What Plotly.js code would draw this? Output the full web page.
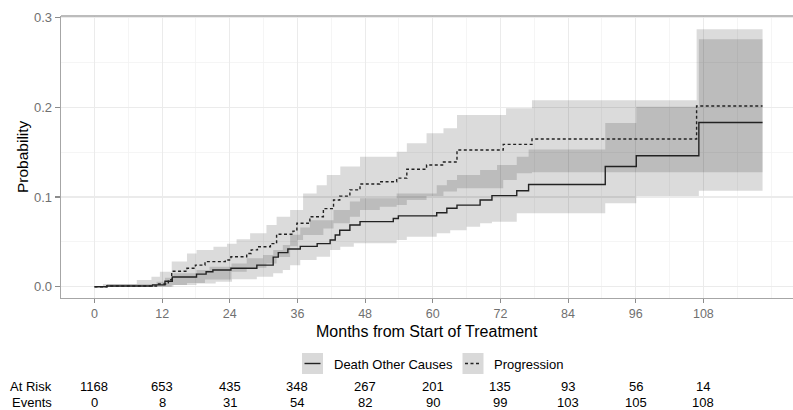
<!DOCTYPE html>
<html>
<head>
<meta charset="utf-8">
<script src="https://cdn.plot.ly/plotly-3.0.1.min.js"></script>
<style>html,body{margin:0;padding:0;background:#fff;}#chart{width:793px;height:410px;}</style>
</head>
<body>
<div id="chart"></div>
<script>
// ---- Data ----
const endTime = 118.5;

// Death Other Causes: cumulative incidence estimate (step changes)
const deathT   = [0, 2.2, 10.3, 12.5, 13.8, 18.1, 19.8, 21, 24.2, 28.8, 31.7, 32.6, 34.3, 36.5, 39.5, 41.8, 42.7, 43.5, 45.3, 47.1, 53, 53.9, 60.7, 62.5, 64.3, 68.4, 70.5, 74.9, 77, 90.6, 96.1, 107.2];
const deathEst = [0, 0.0008, 0.002, 0.006, 0.0108, 0.014, 0.0167, 0.0186, 0.0205, 0.024, 0.033, 0.038, 0.042, 0.045, 0.048, 0.052, 0.0576, 0.063, 0.0688, 0.0725, 0.076, 0.079, 0.0825, 0.0874, 0.091, 0.0967, 0.1015, 0.107, 0.114, 0.134, 0.146, 0.183];
// Death Other Causes: confidence band
const deathLoT = [0, 10.1, 14, 18.1, 21.5, 24.4, 28.8, 31.7, 33.4, 34.7, 36.5, 39.4, 41.8, 43.6, 46, 53.6, 55.4, 60.7, 63.1, 66, 68.4, 70.5, 74.9, 90.6, 96.1, 107.2];
const deathLo  = [0, 0, 0.002, 0.0037, 0.0056, 0.0082, 0.011, 0.015, 0.0186, 0.024, 0.0298, 0.0334, 0.041, 0.0446, 0.0484, 0.052, 0.0557, 0.0595, 0.063, 0.0669, 0.0707, 0.0725, 0.0818, 0.093, 0.101, 0.107];
const deathHiT = [0, 2.2, 11, 12.5, 14, 18.1, 20.4, 24.3, 27, 29.9, 31.7, 33.4, 34.7, 36.5, 38.2, 42.4, 45.3, 47.1, 53.6, 60.7, 62.5, 64.3, 68.4, 71.4, 74.9, 77, 90.6, 96.1, 107.2];
const deathHi  = [0, 0.003, 0.0056, 0.01, 0.015, 0.0186, 0.0223, 0.026, 0.0317, 0.0353, 0.041, 0.0465, 0.058, 0.066, 0.074, 0.0855, 0.095, 0.0985, 0.104, 0.113, 0.119, 0.1245, 0.130, 0.1357, 0.145, 0.153, 0.1825, 0.2007, 0.276];

// Progression: cumulative incidence estimate (step changes)
const progT   = [0, 2.2, 11, 13.1, 13.7, 16.4, 17.9, 19.6, 23.2, 24.2, 27, 27.8, 28.9, 31.2, 32.3, 35.2, 35.9, 38.2, 40.6, 42.4, 43.5, 45.3, 47.1, 50.6, 53.6, 55.4, 58.9, 61.9, 64.3, 72.5, 77.6, 106.8];
const progEst = [0, 0.0008, 0.003, 0.0077, 0.0172, 0.0205, 0.024, 0.028, 0.0298, 0.0334, 0.037, 0.041, 0.0446, 0.048, 0.0585, 0.062, 0.0707, 0.078, 0.087, 0.0967, 0.101, 0.108, 0.1145, 0.117, 0.121, 0.131, 0.1357, 0.139, 0.1524, 0.1587, 0.1647, 0.2015];
// Progression: confidence band
const progLoT = [0, 13.7, 16.4, 19.6, 24.3, 27, 30.5, 32.3, 34.7, 36, 37, 40.6, 42.4, 45.3, 47.1, 50.6, 53.6, 55.4, 58.9, 61.9, 64.3, 72.5, 74.9, 77.6];
const progLo  = [0, 0.002, 0.004, 0.008, 0.0167, 0.021, 0.026, 0.033, 0.045, 0.052, 0.0576, 0.065, 0.0707, 0.078, 0.0855, 0.089, 0.091, 0.0967, 0.101, 0.106, 0.1097, 0.119, 0.1265, 0.1275];
const progHiT = [0, 1.5, 7.5, 10.1, 11.6, 13.7, 16.4, 18.1, 21.1, 23.5, 25.2, 27.6, 30.5, 32.3, 34.7, 37, 39.4, 41.2, 43.6, 47.1, 53.6, 55.4, 58.9, 61.9, 64.3, 73, 77.6, 106.8];
const progHi  = [0, 0.003, 0.0075, 0.011, 0.0167, 0.028, 0.037, 0.041, 0.0446, 0.048, 0.053, 0.0595, 0.0688, 0.078, 0.0855, 0.104, 0.113, 0.1245, 0.134, 0.145, 0.1505, 0.160, 0.171, 0.1766, 0.1914, 0.199, 0.208, 0.287];

// Risk table
const tableTimes = [0, 12, 24, 36, 48, 60, 72, 84, 96, 108];
const atRisk = [1168, 653, 435, 348, 267, 201, 135, 93, 56, 14];
const events = [0, 8, 31, 54, 82, 90, 99, 103, 105, 108];

const xTicks = [0, 12, 24, 36, 48, 60, 72, 84, 96, 108];
const yTicks = [0, 0.1, 0.2, 0.3];
const seriesNames = ['Death Other Causes', 'Progression'];

// ---- Helpers ----
function ext(t, v) { return { x: t.concat([endTime]), y: v.concat([v[v.length - 1]]) }; }

const bandFill = 'rgba(0,0,0,0.14)';
const lineCol = '#222222';
const FONT = 'Liberation Sans, Arial, sans-serif';

const dLo = ext(deathLoT, deathLo), dHi = ext(deathHiT, deathHi), dE = ext(deathT, deathEst);
const pLo = ext(progLoT, progLo), pHi = ext(progHiT, progHi), pE = ext(progT, progEst);

const traces = [
  { x: dLo.x, y: dLo.y, type: 'scatter', mode: 'lines', line: { shape: 'hv', width: 0, color: 'rgba(0,0,0,0)' }, showlegend: false, hoverinfo: 'skip' },
  { x: dHi.x, y: dHi.y, type: 'scatter', mode: 'lines', line: { shape: 'hv', width: 0, color: 'rgba(0,0,0,0)' }, fill: 'tonexty', fillcolor: bandFill, showlegend: false, hoverinfo: 'skip' },
  { x: pLo.x, y: pLo.y, type: 'scatter', mode: 'lines', line: { shape: 'hv', width: 0, color: 'rgba(0,0,0,0)' }, showlegend: false, hoverinfo: 'skip' },
  { x: pHi.x, y: pHi.y, type: 'scatter', mode: 'lines', line: { shape: 'hv', width: 0, color: 'rgba(0,0,0,0)' }, fill: 'tonexty', fillcolor: bandFill, showlegend: false, hoverinfo: 'skip' },
  { x: dE.x, y: dE.y, type: 'scatter', mode: 'lines', name: seriesNames[0], line: { shape: 'hv', width: 1.4, color: lineCol }, showlegend: false },
  { x: pE.x, y: pE.y, type: 'scatter', mode: 'lines', name: seriesNames[1], line: { shape: 'hv', width: 1.4, color: lineCol, dash: '3px,2.5px' }, showlegend: false }
];

// plot area geometry
const L = 61, T = 16, W = 793, H = 410, B = 112;
const pw = W - L, ph = H - T - B;
function px2paperX(px) { return (px - L) / pw; }
function py2paperY(py) { return (H - B - py) / ph; }

const annotations = [];
const shapes = [];

// axis titles
annotations.push({ text: 'Months from Start of Treatment', xref: 'paper', yref: 'paper', x: px2paperX(427), y: py2paperY(331), xanchor: 'center', yanchor: 'middle', showarrow: false, font: { family: FONT, size: 16, color: '#000' } });
annotations.push({ text: 'Probability', xref: 'paper', yref: 'paper', x: px2paperX(22), y: py2paperY(157), xanchor: 'center', yanchor: 'middle', textangle: -90, showarrow: false, font: { family: FONT, size: 15.5, color: '#000' } });

// top border of the panel
shapes.push({ type: 'line', xref: 'paper', yref: 'paper', x0: 0, x1: 1, y0: 1, y1: 1, line: { color: '#a6a6a6', width: 1.3 } });

// legend
const legBoxes = [[302, 323, 331.5], [462.5, 483.5, 491.5]];
seriesNames.forEach(function (nm, i) {
  const b = legBoxes[i];
  shapes.push({ type: 'rect', xref: 'paper', yref: 'paper', x0: px2paperX(b[0]), x1: px2paperX(b[1]), y0: py2paperY(374), y1: py2paperY(353), fillcolor: '#d9d9d9', line: { width: 0 } });
  shapes.push({ type: 'line', xref: 'paper', yref: 'paper', x0: px2paperX(b[0] + 2.5), x1: px2paperX(b[1] - 2.5), y0: py2paperY(363.5), y1: py2paperY(363.5), line: { color: lineCol, width: 1.4, dash: i === 1 ? '3px,2.5px' : 'solid' } });
  annotations.push({ text: nm, xref: 'paper', yref: 'paper', x: px2paperX(b[2]), y: py2paperY(364.5), xanchor: 'left', yanchor: 'middle', showarrow: false, font: { family: FONT, size: 13, color: '#000' } });
});

// risk table
annotations.push({ text: 'At Risk', xref: 'paper', yref: 'paper', x: px2paperX(53.5), y: py2paperY(386), xanchor: 'right', yanchor: 'middle', showarrow: false, font: { family: FONT, size: 13, color: '#000' } });
annotations.push({ text: 'Events', xref: 'paper', yref: 'paper', x: px2paperX(53.5), y: py2paperY(402), xanchor: 'right', yanchor: 'middle', showarrow: false, font: { family: FONT, size: 13, color: '#000' } });
tableTimes.forEach(function (t, i) {
  annotations.push({ text: String(atRisk[i]), xref: 'x', yref: 'paper', x: t, y: py2paperY(386), xanchor: 'center', yanchor: 'middle', showarrow: false, font: { family: FONT, size: 13, color: '#000' } });
  annotations.push({ text: String(events[i]), xref: 'x', yref: 'paper', x: t, y: py2paperY(402), xanchor: 'center', yanchor: 'middle', showarrow: false, font: { family: FONT, size: 13, color: '#000' } });
});

const layout = {
  width: W, height: H,
  margin: { l: L, r: 0, t: T, b: B, pad: 0 },
  paper_bgcolor: '#fff', plot_bgcolor: '#fff',
  showlegend: false,
  font: { family: FONT },
  xaxis: {
    range: [-5.94, 123.9], tickmode: 'array', tickvals: xTicks, ticktext: xTicks.map(String),
    showgrid: true, gridcolor: '#ebebeb', gridwidth: 1.1,
    minor: { dtick: 6, tick0: 0, showgrid: true, gridcolor: '#f3f3f3', gridwidth: 0.8 },
    zeroline: false, showline: true, linecolor: '#a6a6a6', linewidth: 1.3,
    ticks: 'outside', ticklen: 3.5, tickcolor: '#8c8c8c', tickwidth: 1.1,
    tickfont: { family: FONT, size: 12.5, color: '#707070' }, fixedrange: true
  },
  yaxis: {
    range: [-0.0126, 0.3018], tickmode: 'array', tickvals: yTicks, ticktext: yTicks.map(function (v) { return v.toFixed(1); }),
    showgrid: true, gridcolor: '#ebebeb', gridwidth: 1.1,
    minor: { dtick: 0.05, tick0: 0, showgrid: true, gridcolor: '#f3f3f3', gridwidth: 0.8 },
    zeroline: false, showline: true, linecolor: '#a6a6a6', linewidth: 1.3,
    ticks: 'outside', ticklen: 5, tickcolor: '#8c8c8c', tickwidth: 1.1,
    tickfont: { family: FONT, size: 13, color: '#707070' }, fixedrange: true
  },
  annotations: annotations,
  shapes: shapes
};

Plotly.newPlot('chart', traces, layout, { staticPlot: true, displayModeBar: false });
</script>
</body>
</html>
